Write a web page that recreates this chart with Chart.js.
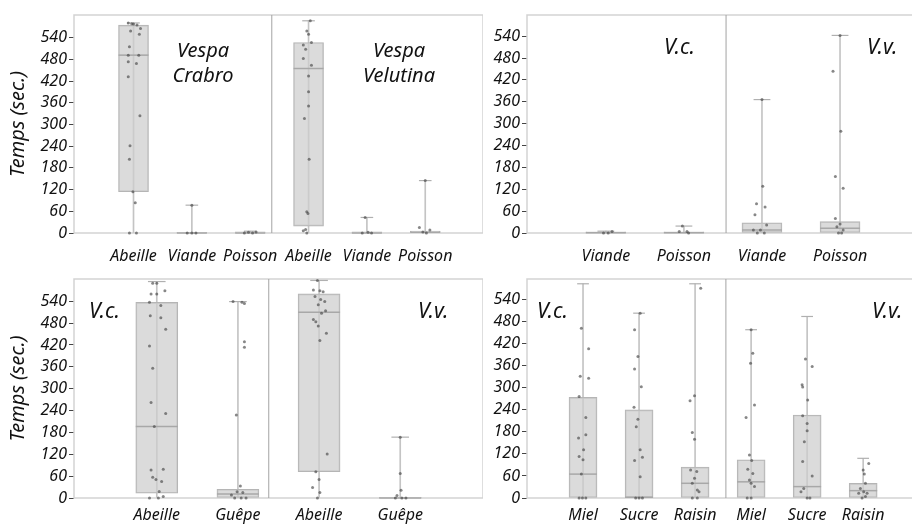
<!DOCTYPE html>
<html>
<head>
<meta charset="utf-8">
<script src="https://cdn.jsdelivr.net/npm/chart.js@4.4.1/dist/chart.umd.min.js"></script>
<style>
  body { margin: 0; background: #fff; overflow: hidden; width: 912px; height: 524px; position: relative; }
  canvas { position: absolute; }
  .note { position: absolute; font-family: "Noto Sans", sans-serif; font-style: italic; color: #111; white-space: nowrap; }
  .big { font-size: 20px; line-height: 25px; text-align: center; width: 120px; }
  .vv { font-size: 21px; line-height: 21px; }
</style>
</head>
<body>
<canvas id="tl" width="483" height="262" style="left:0;top:0"></canvas>
<canvas id="tr" width="440" height="262" style="left:482px;top:0"></canvas>
<canvas id="bl" width="483" height="260" style="left:0;top:264px"></canvas>
<canvas id="br" width="440" height="260" style="left:482px;top:264px"></canvas>

<div class="note big" style="left:143px;top:37px">Vespa<br>Crabro</div>
<div class="note big" style="left:339px;top:37px">Vespa<br>Velutina</div>
<div class="note vv" style="left:664px;top:36px">V.c.</div>
<div class="note vv" style="left:867px;top:36px">V.v.</div>
<div class="note vv" style="left:89px;top:300px">V.c.</div>
<div class="note vv" style="left:418px;top:300px">V.v.</div>
<div class="note vv" style="left:537px;top:300px">V.c.</div>
<div class="note vv" style="left:872px;top:300px">V.v.</div>

<script>
const FONT = '"Noto Sans", sans-serif';
const Y_TICKS = [0, 60, 120, 180, 240, 300, 360, 420, 480, 540];

// top left : Abeille / Viande / Poisson, V. crabro then V. velutina
const CAT_TL = ['Abeille', 'Viande', 'Poisson', 'Abeille', 'Viande', 'Poisson'];
const Q1_TL  = [114, 0, 0, 19, 0, 0];
const MED_TL = [492, 0, 0, 455, 0, 2];
const Q3_TL  = [575, 2, 3, 527, 3, 5];
const LO_TL  = [0, 0, 0, 0, 0, 0];
const HI_TL  = [581, 77, 5, 587, 43, 145];
const PTS_TL = [
  [[-0.09,581],[-0.03,579],[0,578],[0.06,575],[0.12,566],[-0.05,559],[0.1,550],[-0.07,515],[-0.09,492],[0.09,492],
   [-0.09,474],[0.05,469],[-0.09,432],[0.11,324],[-0.06,241],[-0.07,204],[-0.01,114],[0.03,84],[-0.07,0],[0.05,0]],
  [[0,77],[-0.08,0],[0,0],[0.07,0]],
  [[-0.1,0],[-0.03,2],[0.04,0],[0.1,3]],
  [[0.03,587],[-0.03,559],[0,550],[0.05,527],[-0.09,520],[-0.05,508],[-0.09,483],[0.05,464],[0,434],[0,391],
   [0,351],[-0.07,317],[0.01,204],[-0.03,59],[-0.01,54],[-0.05,10],[-0.09,6],[-0.03,0]],
  [[-0.03,43],[-0.08,0],[0.02,2],[0.08,0]],
  [[0,145],[-0.1,15],[0.08,8],[0.02,0],[-0.04,3]]
];

// top right : Viande / Poisson
const CAT_TR = ['Viande', 'Poisson', 'Viande', 'Poisson'];
const Q1_TR  = [0, 0, 0, 0];
const MED_TR = [1, 1, 8, 13];
const Q3_TR  = [3, 3, 28, 31];
const LO_TR  = [0, 0, 0, 0];
const HI_TR  = [5, 19, 366, 542];
const PTS_TR = [
  [[-0.03,0],[0.03,0],[0.08,4]],
  [[-0.02,19],[-0.06,4],[0.04,4],[0.06,0]],
  [[0,366],[0.01,128],[-0.07,80],[0.04,71],[-0.09,50],[0.06,22],[-0.02,8],[-0.11,8],[-0.06,0],[0.03,0]],
  [[0,542],[-0.09,444],[0.01,279],[-0.06,155],[0.04,123],[-0.06,40],[0,25],[-0.04,17],[0.04,8],[-0.02,0],[0.02,0]]
];

// bottom left : Abeille / Guêpe
const CAT_BL = ['Abeille', 'Guêpe', 'Abeille', 'Guêpe'];
const Q1_BL  = [13, 0, 72, 0];
const MED_BL = [196, 11, 510, 0];
const Q3_BL  = [537, 24, 560, 2];
const LO_BL  = [0, 0, 0, 0];
const HI_BL  = [594, 539, 597, 167];
const PTS_BL = [
  [[-0.05,589],[0,589],[0.1,569],[-0.07,560],[0,560],[-0.09,537],[0.05,528],[-0.08,500],[0.05,495],[0.11,463],
   [-0.09,417],[-0.05,356],[-0.07,262],[0.11,232],[-0.03,196],[-0.07,77],[0.08,79],[-0.05,57],[-0.01,51],[0.06,45],
   [0.03,18],[-0.09,0],[0.02,0],[0.08,4]],
  [[-0.06,539],[0.05,537],[0.08,534],[0.08,429],[0.08,414],[-0.02,228],[0.03,33],[-0.01,17],[0.06,15],[-0.08,8],
   [-0.04,0],[0.04,0],[0.1,0]],
  [[-0.02,597],[-0.07,571],[0.01,569],[0.05,566],[-0.05,553],[0.02,545],[0.07,539],[-0.01,530],[0.08,514],[0.03,507],
   [-0.07,490],[-0.04,484],[-0.01,472],[0.09,452],[0.01,432],[0.1,121],[-0.04,72],[0,51],[-0.08,29],[0.01,15],[-0.02,0]],
  [[0,167],[0,67],[0.01,21],[-0.04,7],[-0.06,0],[0.02,0],[0.07,0]]
];

// bottom right : Miel / Sucre / Raisin
const CAT_BR = ['Miel', 'Sucre', 'Raisin', 'Miel', 'Sucre', 'Raisin'];
const Q1_BR  = [0, 0, 0, 0, 0, 0];
const MED_BR = [65, 2, 40, 44, 31, 20];
const Q3_BR  = [274, 240, 84, 104, 226, 40];
const LO_BR  = [0, 0, 0, 0, 0, 0];
const HI_BR  = [583, 503, 583, 458, 494, 108];
const PTS_BR = [
  [[-0.03,462],[0.1,406],[-0.05,331],[0.1,326],[-0.07,276],[0.05,219],[-0.08,163],[0.05,172],[0.01,131],[-0.07,113],
   [0,104],[-0.03,65],[-0.07,0],[-0.01,0],[0.05,0]],
  [[0.02,503],[-0.08,458],[-0.02,385],[-0.08,351],[0.04,303],[-0.09,247],[-0.02,214],[-0.05,194],[0.02,131],[0.06,111],
   [-0.08,102],[0.02,58],[-0.06,0],[0,0],[0.06,0]],
  [[0.1,571],[-0.09,265],[-0.01,278],[-0.05,178],[-0.01,160],[-0.08,76],[0.03,72],[-0.01,54],[-0.05,40],[0.04,22],
   [0.07,17],[-0.05,0],[0.04,0]],
  [[0,458],[0.03,394],[-0.01,367],[0.06,253],[-0.09,219],[-0.03,117],[0.01,102],[-0.06,78],[0.03,67],[-0.03,49],
   [0,40],[0.06,31],[-0.07,0],[0,0]],
  [[-0.03,378],[0.09,358],[-0.09,308],[-0.08,302],[0.01,267],[-0.08,224],[0,203],[0,183],[-0.05,153],[-0.08,99],
   [0.09,60],[-0.06,26],[-0.11,17],[0,0],[0.05,0]],
  [[0.1,94],[0,76],[0.02,65],[0.04,40],[-0.05,26],[0.01,17],[-0.08,13],[0.07,13],[-0.02,0],[0.04,4]]
];

// frame around the plot area + the vertical separator between species
const framePlugin = {
  id: 'frame',
  beforeDatasetsDraw(chart, args, opts) {
    const { left, top, right, bottom } = chart.chartArea;
    const ctx = chart.ctx;
    ctx.save();
    ctx.strokeStyle = '#d3d3d3';
    ctx.lineWidth = 1.5;
    ctx.strokeRect(left, top, right - left, bottom - top);
    const x = chart.scales.x.getPixelForValue(opts.divider);
    ctx.strokeStyle = '#a3a3a3';
    ctx.lineWidth = 1;
    ctx.beginPath();
    ctx.moveTo(x, top);
    ctx.lineTo(x, bottom);
    ctx.stroke();
    ctx.restore();
  }
};

function panel(id, cats, q1, med, q3, lo, hi, pts, cfg) {
  const idx = cats.map((_, i) => i);
  const jitter = [];
  pts.forEach((list, i) => list.forEach(([dx, v]) => jitter.push({ x: i + dx, y: v })));

  return new Chart(document.getElementById(id), {
    type: 'bar',
    data: {
      datasets: [
        { type: 'bar', data: idx.map(i => ({ x: i, y: [q1[i], q3[i]] })), barThickness: cfg.box, grouped: false,
          backgroundColor: 'rgba(205,205,205,0.72)', borderColor: '#b5b5b5', borderWidth: 1, borderSkipped: false, order: 4 },
        { type: 'bar', data: idx.map(i => ({ x: i, y: [lo[i], hi[i]] })), barThickness: 1, grouped: false,
          backgroundColor: '#c4c4c4', borderWidth: 0, order: 5 },
        { type: 'scatter', data: idx.map(i => ({ x: i, y: med[i] })), pointStyle: 'line', pointRadius: cfg.box / 2,
          pointBorderColor: '#a8a8a8', pointBorderWidth: 1.5, clip: false, order: 3 },
        { type: 'scatter', data: idx.map(i => ({ x: i, y: hi[i] })), pointStyle: 'line', pointRadius: cfg.box * 0.21,
          pointBorderColor: '#b0b0b0', pointBorderWidth: 1.2, clip: false, order: 2 },
        { type: 'scatter', data: jitter, pointRadius: 1.5, pointBackgroundColor: 'rgba(70,70,70,0.65)',
          pointBorderWidth: 0, clip: false, order: 1 }
      ]
    },
    options: {
      responsive: false,
      animation: false,
      events: [],
      layout: { autoPadding: false, padding: { top: 15, left: 0, right: 0, bottom: 0 } },
      plugins: { legend: { display: false }, tooltip: { enabled: false }, frame: { divider: cfg.divider } },
      scales: {
        x: {
          type: 'linear', min: cfg.xMin, max: cfg.xMax, offset: false,
          grid: { display: false, drawTicks: false }, border: { display: false },
          afterBuildTicks: s => { s.ticks = idx.map(i => ({ value: i })); },
          afterFit: s => { s.height = cfg.xHeight; },
          ticks: { autoSkip: false, maxRotation: 0, padding: cfg.labelPad, color: '#111',
                   font: { family: FONT, size: 16, style: 'italic' }, callback: v => cats[v] }
        },
        y: {
          min: 0, max: cfg.yMax,
          afterBuildTicks: s => { s.ticks = Y_TICKS.map(v => ({ value: v })); },
          afterFit: s => { s.width = cfg.yWidth; },
          grid: { drawOnChartArea: false, drawTicks: true, tickLength: 5, tickColor: '#444', tickWidth: 1 },
          border: { display: false },
          ticks: { autoSkip: false, padding: 2, color: '#111', font: { family: FONT, size: 16, style: 'italic' } },
          title: { display: cfg.title, text: 'Temps (sec.)', color: '#111', padding: { top: 6, bottom: 0 },
                   font: { family: FONT, size: 20, style: 'italic' } }
        }
      }
    },
    plugins: [framePlugin]
  });
}

panel('tl', CAT_TL, Q1_TL, MED_TL, Q3_TL, LO_TL, HI_TL, PTS_TL,
  { xMin: -1.02, xMax: 5.99, divider: 2.37, box: 30, yMax: 603, yWidth: 74, xHeight: 29, labelPad: 14, title: true });
panel('tr', CAT_TR, Q1_TR, MED_TR, Q3_TR, LO_TR, HI_TR, PTS_TR,
  { xMin: -1.01, xMax: 4.05, divider: 1.54, box: 40, yMax: 598, yWidth: 45, xHeight: 29, labelPad: 14, title: false });
panel('bl', CAT_BL, Q1_BL, MED_BL, Q3_BL, LO_BL, HI_BL, PTS_BL,
  { xMin: -1.02, xMax: 4.02, divider: 1.38, box: 42, yMax: 601, yWidth: 74, xHeight: 26, labelPad: 8, title: true });
panel('br', CAT_BR, Q1_BR, MED_BR, Q3_BR, LO_BR, HI_BR, PTS_BR,
  { xMin: -1.0, xMax: 6.05, divider: 2.55, box: 28, yMax: 596, yWidth: 45, xHeight: 26, labelPad: 8, title: false });
</script>
</body>
</html>
